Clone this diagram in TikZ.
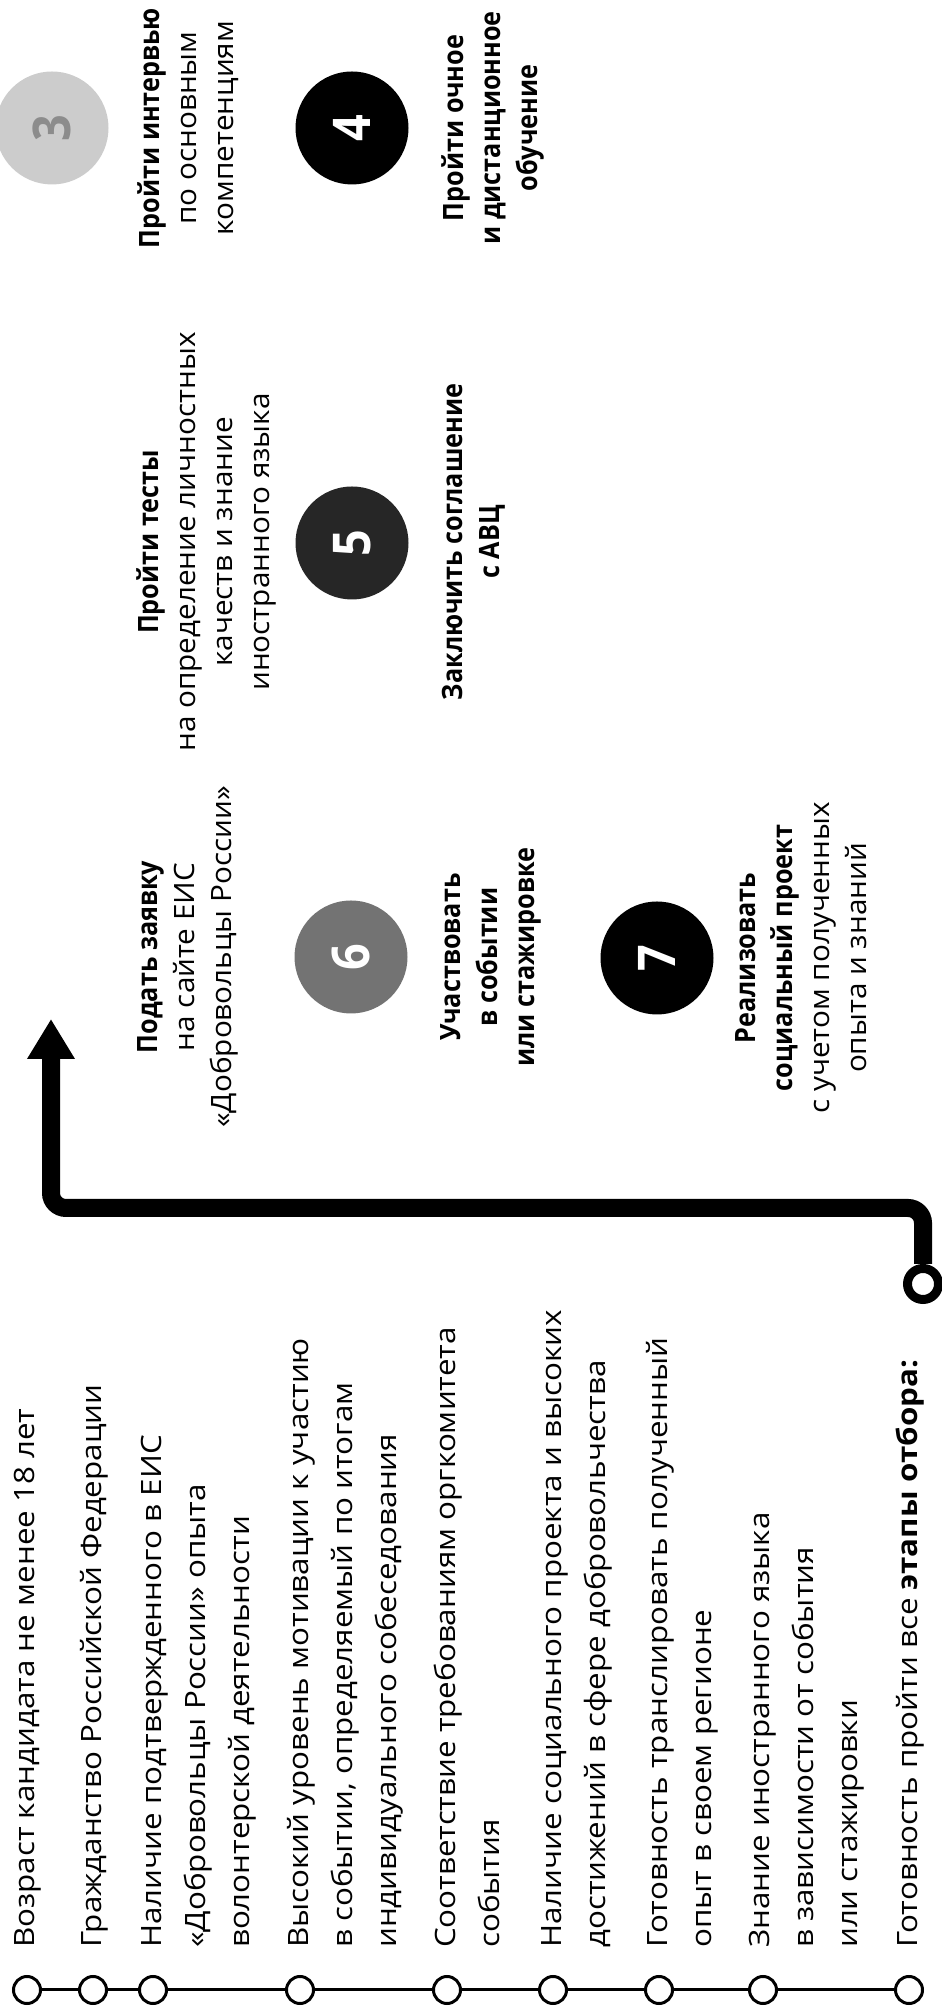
\documentclass[tikz,border=0pt]{standalone}
\usepackage{fontspec}
\setmainfont{Open Sans}[FakeStretch=1.12]
\newfontfamily\stagefont{Open Sans}[FakeStretch=1.06]
\newfontfamily\stagebold{Open Sans}[FakeStretch=0.9]
\newcommand{\stagehead}[1]{{\stagebold\bfseries #1}}
\usetikzlibrary{arrows.meta}

\begin{document}
\begin{tikzpicture}[x=1pt, y=1pt, rotate=90, transform shape,
    dot/.style={circle, draw, line width=3pt, fill=white, minimum size=27pt, inner sep=0pt},
    req/.style={anchor=base west, align=left, inner sep=0pt, font=\fontsize{28}{44}\selectfont},
    stage/.style={circle, minimum size=113pt, inner sep=0pt, text=white, font=\fontsize{52}{52}\selectfont\stagebold\bfseries},
    stagetext/.style={anchor=base, align=center, inner sep=0pt, font=\fontsize{28}{37}\selectfont\stagefont}]
    \useasboundingbox (0,0) rectangle (2013,-942);

    % requirements (anchor = baseline of the last line)
    \foreach \n/\w in {1/27,2/93,3/153,4/300,5/447,6/553,7/659,8/763,9/909}
        \node[dot] (d\n) at (23,-\w) {};
    \foreach \a/\b in {1/2,2/3,3/4,4/5,5/6,6/7,7/8,8/9}
        \draw[line width=3pt] (d\a) -- (d\b);
    \node[req] (r1) at (65,-35) {Возраст кандидата не менее 18 лет};
    \node[req] (r2) at (65,-101) {Гражданство Российской Федерации};
    \node[req] (r3) at (65,-249) {Наличие подтвержденного в ЕИС\\«Добровольцы России» опыта\\волонтерской деятельности};
    \node[req] (r4) at (65,-396) {Высокий уровень мотивации к участию\\в событии, определяемый по итогам\\индивидуального собеседования};
    \node[req] (r5) at (65,-499) {Соответствие требованиям оргкомитета\\события};
    \node[req] (r6) at (65,-605) {Наличие социального проекта и высоких\\достижений в сфере добровольчества};
    \node[req] (r7) at (65,-711) {Готовность транслировать полученный\\опыт в своем регионе};
    \node[req] (r8) at (65,-857) {Знание иностранного языка\\в зависимости от события\\или стажировки};
    \node[req] (r9) at (65,-917) {Готовность пройти все \textbf{этапы отбора:}};

    % arrow to the stages
    \node[circle, draw, line width=9pt, minimum size=31pt, inner sep=0pt] (start) at (729,-923) {};
    \coordinate (goal) at (994,-51);
    \draw[line width=18pt, rounded corners=15pt, -{Triangle[length=40pt, width=45pt]}]
        (start) -- (805,-923) -- (805,-51) -- (goal);

    % stages
    \node[stage, fill=black!20, text=black!45] (s3) at (1885,-52) {3};
    \node[stage, fill=black] (s4) at (1885,-352) {4};
    \node[stage, fill=black!85] (s5) at (1470,-352) {5};
    \node[stage, fill=black!55] (s6) at (1056,-351) {6};
    \node[stage, fill=black] (s7) at (1055,-657) {7};

    \node[stagetext] (t1) at (1056,-231) {\stagehead{Подать заявку}\\на сайте ЕИС\\«Добровольцы России»};
    \node[stagetext] (t2) at (1471,-269) {\stagehead{Пройти тесты}\\на определение личностных\\качеств и знание\\иностранного языка};
    \node[stagetext] (t3) at (1885,-233) {\stagehead{Пройти интервью}\\по основным\\компетенциям};
    \node[stagetext, font=\fontsize{28}{37}\selectfont\stagebold\bfseries] (t4) at (1885,-537) {Пройти очное\\и дистанционное\\обучение};
    \node[stagetext, font=\fontsize{28}{37}\selectfont\stagebold\bfseries] (t5) at (1471,-499) {Заключить соглашение\\с АВЦ};
    \node[stagetext, font=\fontsize{28}{37}\selectfont\stagebold\bfseries] (t6) at (1056,-534) {Участвовать\\в событии\\или стажировке};
    \node[stagetext] (t7) at (1055,-866) {\stagehead{Реализовать}\\\stagehead{социальный проект}\\с учетом полученных\\опыта и знаний};
\end{tikzpicture}
\end{document}
